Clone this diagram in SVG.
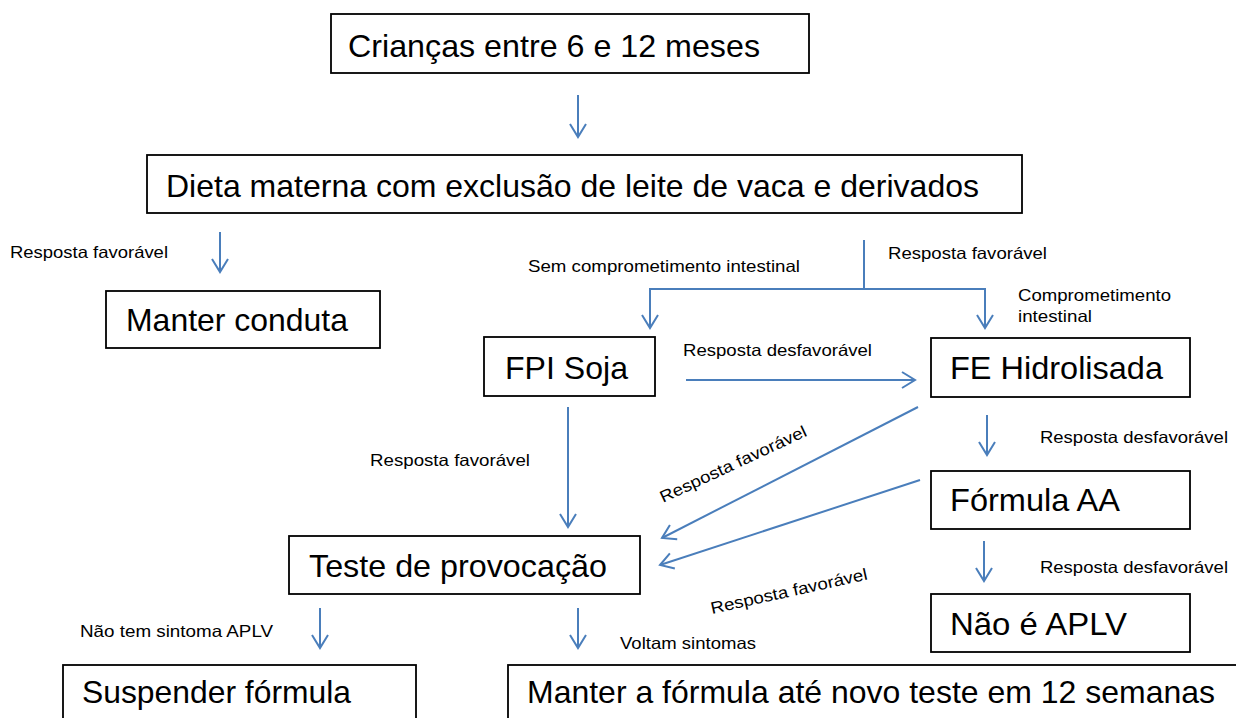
<svg xmlns="http://www.w3.org/2000/svg" width="1236" height="718" viewBox="0 0 1236 718">
<style>
.box{fill:#fff;stroke:#000;stroke-width:1.8}
.big{font-family:"Liberation Sans",Arial,sans-serif;font-size:32px;fill:#000}
.lbl{font-family:"Liberation Sans",Arial,sans-serif;font-size:16.5px;fill:#000}
.c{fill:none;stroke:#4a7ebb;stroke-width:2}
.a{marker-end:url(#ah)}
</style>
<defs>
<marker id="ah" markerUnits="userSpaceOnUse" viewBox="-14 -10 16 20" refX="0" refY="0" markerWidth="16" markerHeight="20" orient="auto" overflow="visible">
<path d="M-13,-8 L0,0 L-13,8" fill="none" stroke="#4a7ebb" stroke-width="2"/>
</marker>
</defs>
<rect width="1236" height="718" fill="#fff"/>
<g id="n1"><rect class="box" x="331" y="14" width="478" height="59"/><text class="big" x="348" y="57" textLength="412" lengthAdjust="spacingAndGlyphs">Crianças entre 6 e 12 meses</text></g>
<g id="n2"><rect class="box" x="147" y="155" width="875" height="58"/><text class="big" x="166" y="197" textLength="813" lengthAdjust="spacingAndGlyphs">Dieta materna com exclusão de leite de vaca e derivados</text></g>
<g id="n3"><rect class="box" x="106" y="291" width="274" height="57"/><text class="big" x="126" y="331" textLength="222" lengthAdjust="spacingAndGlyphs">Manter conduta</text></g>
<g id="n4"><rect class="box" x="484" y="337" width="171" height="59"/><text class="big" x="505" y="379" textLength="123" lengthAdjust="spacingAndGlyphs">FPI Soja</text></g>
<g id="n5"><rect class="box" x="931" y="338" width="259" height="59"/><text class="big" x="950" y="379" textLength="213" lengthAdjust="spacingAndGlyphs">FE Hidrolisada</text></g>
<g id="n6"><rect class="box" x="931" y="471" width="259" height="58"/><text class="big" x="950" y="511" textLength="170" lengthAdjust="spacingAndGlyphs">Fórmula AA</text></g>
<g id="n7"><rect class="box" x="289" y="536" width="351" height="58"/><text class="big" x="309" y="577" textLength="298" lengthAdjust="spacingAndGlyphs">Teste de provocação</text></g>
<g id="n8"><rect class="box" x="931" y="594" width="259" height="58"/><text class="big" x="950" y="635" textLength="177" lengthAdjust="spacingAndGlyphs">Não é APLV</text></g>
<g id="n9"><rect class="box" x="63" y="665" width="353" height="60"/><text class="big" x="82" y="703" textLength="269" lengthAdjust="spacingAndGlyphs">Suspender fórmula</text></g>
<g id="n10"><rect class="box" x="508" y="665" width="740" height="60"/><text class="big" x="527" y="703" textLength="688" lengthAdjust="spacingAndGlyphs">Manter a fórmula até novo teste em 12 semanas</text></g>
<g id="connectors">
<line class="c a" x1="578" y1="95" x2="578" y2="137"/>
<line class="c a" x1="220" y1="232" x2="220" y2="272"/>
<polyline class="c" points="864,240 864,289"/>
<polyline class="c a" points="864,289 650,289 650,328"/>
<polyline class="c a" points="864,289 985,289 985,328"/>
<line class="c a" x1="686" y1="380" x2="915" y2="380"/>
<line class="c a" x1="568" y1="407" x2="568" y2="527"/>
<line class="c a" x1="918" y1="407" x2="662" y2="538"/>
<line class="c a" x1="920" y1="480" x2="660" y2="565"/>
<line class="c a" x1="987" y1="415" x2="987" y2="455"/>
<line class="c a" x1="984" y1="541" x2="984" y2="581"/>
<line class="c a" x1="320" y1="608" x2="320" y2="648"/>
<line class="c a" x1="578" y1="608" x2="578" y2="648"/>
</g>
<g id="labels">
<text class="lbl" x="10" y="258" textLength="158" lengthAdjust="spacingAndGlyphs">Resposta favorável</text>
<text class="lbl" x="528" y="272" textLength="272" lengthAdjust="spacingAndGlyphs">Sem comprometimento intestinal</text>
<text class="lbl" x="888" y="259" textLength="159" lengthAdjust="spacingAndGlyphs">Resposta favorável</text>
<text class="lbl" x="1018" y="301" textLength="153" lengthAdjust="spacingAndGlyphs">Comprometimento</text>
<text class="lbl" x="1018" y="322" textLength="74" lengthAdjust="spacingAndGlyphs">intestinal</text>
<text class="lbl" x="683" y="356" textLength="189" lengthAdjust="spacingAndGlyphs">Resposta desfavorável</text>
<text class="lbl" x="370" y="466" textLength="160" lengthAdjust="spacingAndGlyphs">Resposta favorável</text>
<text class="lbl" x="1040" y="443" textLength="188" lengthAdjust="spacingAndGlyphs">Resposta desfavorável</text>
<text class="lbl" x="1040" y="573" textLength="188" lengthAdjust="spacingAndGlyphs">Resposta desfavorável</text>
<text class="lbl" x="80" y="637" textLength="193" lengthAdjust="spacingAndGlyphs">Não tem sintoma APLV</text>
<text class="lbl" x="620" y="649" textLength="136" lengthAdjust="spacingAndGlyphs">Voltam sintomas</text>
<text class="lbl" transform="translate(663,503) rotate(-25)" textLength="160" lengthAdjust="spacingAndGlyphs">Resposta favorável</text>
<text class="lbl" transform="translate(712,614) rotate(-12.5)" textLength="160" lengthAdjust="spacingAndGlyphs">Resposta favorável</text>
</g>
</svg>
